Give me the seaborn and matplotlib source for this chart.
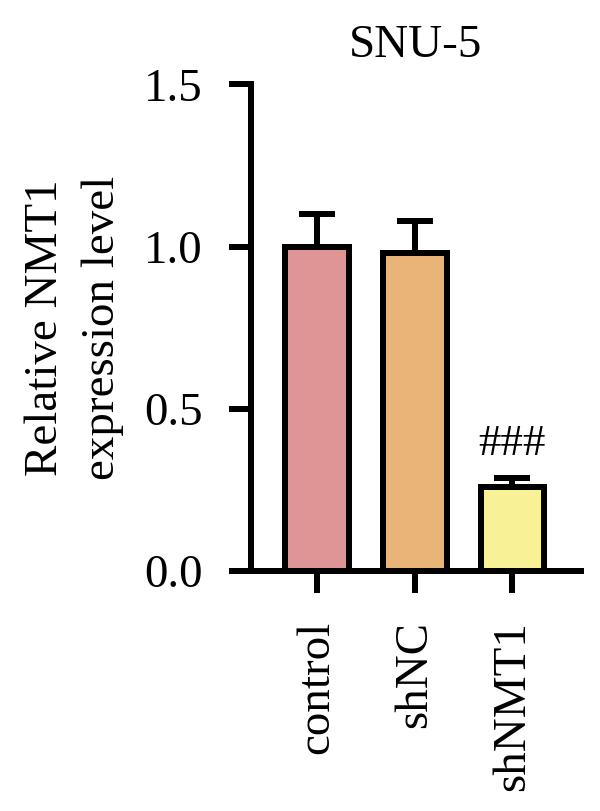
import numpy as np
import pandas as pd
import matplotlib
matplotlib.use("Agg")
import matplotlib.pyplot as plt
import seaborn as sns

groups = ["control", "shNC", "shNMT1"]
means = [1.00, 0.98, 0.26]
sems = [0.10, 0.10, 0.025]
colors = ["#DF9595", "#E8B478", "#F9F196"]
title = "SNU-5"
ylabel = "Relative NMT1\nexpression level"
mark = "###"

sns.set_style("ticks")
plt.rcParams["font.family"] = ["Liberation Serif", "DejaVu Serif"]
plt.rcParams["font.size"] = 47
plt.rcParams["text.color"] = "black"
plt.rcParams["axes.labelcolor"] = "black"

df = pd.DataFrame({"group": groups, "value": means})

# dpi 72 so that points == pixels
fig = plt.figure(figsize=(600 / 72, 811 / 72), dpi=72)
ax = fig.add_axes([0.418, 0.296, 0.55, 0.6])

sns.barplot(data=df, x="group", y="value", hue="group", palette=colors,
            order=groups, width=0.65, edgecolor="black", linewidth=6,
            saturation=1, errorbar=None, legend=False, ax=ax)

# upper error bars only
ax.errorbar(np.arange(len(groups)), means, yerr=[np.zeros(len(groups)), sems],
            fmt="none", ecolor="black", elinewidth=6, capsize=18,
            capthick=6, zorder=1)

ax.annotate(mark, xy=(2, means[2] + sems[2]), xytext=(0, 14),
            textcoords="offset points", ha="center", va="bottom",
            fontsize=45, color="black")

ax.set_ylim(0, 1.5)
ax.set_xlim(-0.68, 2.7)
ax.set_yticks([0, 0.5, 1.0, 1.5])
ax.set_yticklabels(["0.0", "0.5", "1.0", "1.5"])
ax.set_xlabel("")
ax.set_ylabel(ylabel, fontsize=47, labelpad=20, linespacing=1.45,
              color="black")
ax.set_title(title, fontsize=47, pad=27, color="black")

ax.tick_params(axis="y", length=22, width=6, pad=26, labelsize=47,
               colors="black")
ax.tick_params(axis="x", length=22, width=6, pad=28, labelsize=47,
               labelrotation=90, colors="black")
sns.despine(ax=ax)
for s in ["left", "bottom"]:
    ax.spines[s].set_linewidth(6)
    ax.spines[s].set_color("black")

fig.savefig("out.png", dpi=72)
